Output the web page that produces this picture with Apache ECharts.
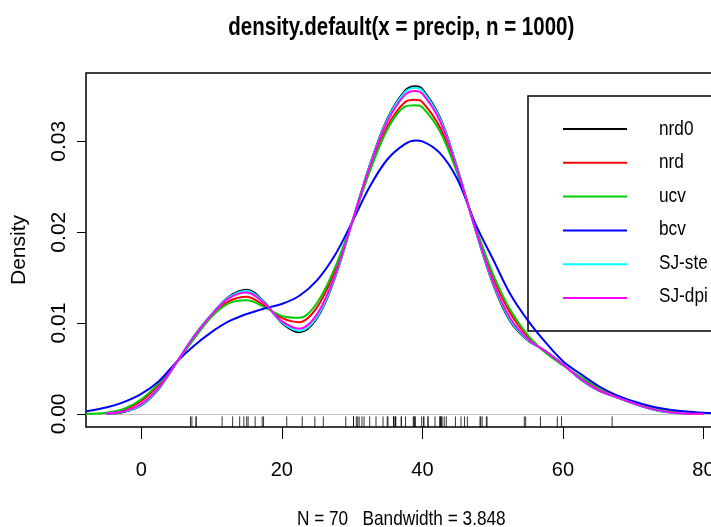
<!DOCTYPE html>
<html>
<head>
<meta charset="utf-8">
<script src="https://cdn.jsdelivr.net/npm/echarts@6/dist/echarts.min.js"></script>
<style>
html,body{margin:0;padding:0;background:#fff;}
#chart{width:711px;height:527px;}
</style>
</head>
<body>
<div id="chart"></div>
<script>
// ---- data ----
const titleText = 'density.default(x = precip, n = 1000)';
const subText = 'N = 70   Bandwidth = 3.848';
const seriesNames = ['nrd0', 'nrd', 'ucv', 'bcv', 'SJ-ste', 'SJ-dpi'];
const seriesColors = ['#000000', '#ff0000', '#00cd00', '#0000ff', '#00ffff', '#ff00ff'];
const xTicks = [0, 20, 40, 60, 80];
const yTicks = [0, 0.01, 0.02, 0.03];

// evaluation grid (x) shared by all curves
const xs = [-7.8, -5, -2.5, 0, 2.5, 5, 7.5, 10, 12.5, 15, 17.5, 20, 22.5, 25, 27.5, 30, 32.5, 35, 37.5, 39, 40,
            42.5, 45, 47.5, 50, 52.5, 55, 57.5, 60, 62.5, 65, 67.5, 70, 72.5, 75, 77.5, 80, 81.8];

const nrd0 = [null, 0.00003, 0.00022, 0.00094, 0.00277, 0.00564, 0.00857, 0.01096, 0.01292, 0.01367, 0.01231, 0.01002,
  0.00900, 0.01053, 0.01486, 0.02108, 0.02737, 0.03246, 0.03556, 0.03607, 0.03575, 0.03262, 0.02696, 0.02039, 0.01440,
  0.01020, 0.00811, 0.00695, 0.00547, 0.00380, 0.00259, 0.00186, 0.00117, 0.00054, 0.00017, 0.00004, null, null];
const nrd = [null, 0.00010, 0.00045, 0.00142, 0.00322, 0.00567, 0.00834, 0.01078, 0.01240, 0.01290, 0.01191, 0.01057,
  0.01010, 0.01173, 0.01567, 0.02111, 0.02685, 0.03160, 0.03431, 0.03457, 0.03432, 0.03153, 0.02657, 0.02064, 0.01517,
  0.01111, 0.00851, 0.00681, 0.00539, 0.00400, 0.00280, 0.00188, 0.00120, 0.00065, 0.00027, 0.00008, 0.00002, null];
const ucv = [0.00002, 0.00013, 0.00054, 0.00161, 0.00339, 0.00568, 0.00825, 0.01070, 0.01219, 0.01250, 0.01175, 0.01078,
  0.01058, 0.01221, 0.01599, 0.02112, 0.02665, 0.03127, 0.03381, 0.03397, 0.03375, 0.03110, 0.02641, 0.02074, 0.01547,
  0.01147, 0.00867, 0.00676, 0.00536, 0.00408, 0.00288, 0.00188, 0.00121, 0.00070, 0.00031, 0.00009, 0.00003, null];
const bcv = [0.0003, 0.0007, 0.0013, 0.0022, 0.0036, 0.0057, 0.0075, 0.0090, 0.0102, 0.0110, 0.0116, 0.0121,
  0.0130, 0.0147, 0.0174, 0.0211, 0.0250, 0.0280, 0.0297, 0.0301, 0.0300, 0.0287, 0.0258, 0.0210, 0.0171,
  0.0132, 0.0103, 0.0079, 0.0058, 0.0044, 0.0031, 0.0021, 0.0014, 0.00085, 0.00048, 0.00026, 0.00013, 0.00008];
const sjSte = [null, 0.00004, 0.00025, 0.00100, 0.00282, 0.00564, 0.00854, 0.01094, 0.01286, 0.01356, 0.01226, 0.01008,
  0.00913, 0.01067, 0.01495, 0.02108, 0.02731, 0.03236, 0.03541, 0.03590, 0.03558, 0.03249, 0.02691, 0.02042, 0.01449,
  0.01031, 0.00816, 0.00693, 0.00546, 0.00382, 0.00261, 0.00186, 0.00117, 0.00055, 0.00018, 0.00004, null, null];
const sjDpi = [null, 0.00005, 0.00030, 0.00111, 0.00293, 0.00565, 0.00849, 0.01090, 0.01274, 0.01335, 0.01217, 0.01021,
  0.00938, 0.01095, 0.01514, 0.02109, 0.02719, 0.03216, 0.03512, 0.03555, 0.03525, 0.03224, 0.02682, 0.02048, 0.01467,
  0.01052, 0.00825, 0.00690, 0.00544, 0.00387, 0.00266, 0.00187, 0.00118, 0.00058, 0.00021, 0.00005, 0.00001, null];

// rug: the observations (precip)
const precip = [67.0, 54.7, 7.0, 48.5, 14.0, 17.2, 20.7, 13.0, 43.4, 40.2, 38.9, 54.5, 59.8, 48.3, 22.9, 11.5,
  34.4, 35.1, 38.7, 30.8, 30.6, 43.1, 56.8, 40.8, 41.8, 42.5, 31.0, 31.7, 30.2, 25.9, 49.2, 37.0, 35.9, 15.0,
  30.2, 7.2, 36.2, 45.5, 7.8, 33.4, 36.1, 40.2, 42.7, 42.5, 16.2, 39.0, 35.0, 37.0, 31.4, 37.6, 39.9, 36.2,
  42.8, 46.4, 24.7, 49.1, 46.0, 35.9, 7.8, 48.2, 15.2, 32.5, 44.7, 42.6, 38.8, 17.4, 40.8, 29.1, 14.6, 59.2];

const curves = [nrd0, nrd, ucv, bcv, sjSte, sjDpi];

// ---- layout / style ----
const xMin = -7.868, xMax = 81.868, yMin = -0.00144, yMax = 0.03752;
const regular = "'Liberation Sans', Arial, sans-serif";
const squeeze = 0.82; // the reference text is horizontally condensed

const chart = echarts.init(document.getElementById('chart'), null, {renderer: 'canvas'});

const lineSeries = curves.map((ys, i) => ({
  name: seriesNames[i],
  type: 'line',
  data: xs.map((x, j) => [x, ys[j]]),
  smooth: 0.35,
  symbol: 'none',
  connectNulls: false,
  clip: true,
  lineStyle: {color: seriesColors[i], width: 2},
  itemStyle: {color: seriesColors[i]},
  z: 3 + i,
  markLine: i === 0 ? {
    silent: true, symbol: 'none', label: {show: false}, animation: false,
    lineStyle: {color: '#bebebe', width: 1, type: 'solid'},
    data: [{yAxis: 0}], z: 1
  } : undefined
}));

const rugSeries = {
  name: 'rug',
  type: 'custom',
  coordinateSystem: 'cartesian2d',
  data: precip.map(v => [v, yMin]),
  encode: {x: 0, y: 1},
  clip: false,
  z: 2,
  renderItem: function (params, api) {
    const p = api.coord([api.value(0), api.value(1)]);
    return {
      type: 'line',
      shape: {x1: p[0], y1: p[1], x2: p[0], y2: p[1] - 10.6},
      style: {stroke: '#000', lineWidth: 0.8}
    };
  }
};

const legendTop = 96, legendRow = 33.5, legendFirst = 129;
const legendTexts = seriesNames.map((n, i) => ({
  type: 'text', x: 659, y: legendFirst + i * legendRow, scaleX: squeeze, silent: true, z: 100,
  style: {text: n, fill: '#000', font: '21px ' + regular, align: 'left', verticalAlign: 'middle'}
}));

chart.setOption({
  animation: false,
  backgroundColor: '#ffffff',
  grid: {left: 86, top: 73, width: 630.6, height: 354, show: true, borderColor: '#000', borderWidth: 1.5,
    outerBoundsMode: 'none', containLabel: false},
  xAxis: {
    type: 'value', min: xMin, max: xMax,
    axisLine: {show: false, onZero: false}, splitLine: {show: false},
    axisTick: {show: true, length: 12, customValues: xTicks, lineStyle: {color: '#000', width: 1}},
    axisLabel: {customValues: xTicks, margin: 33, fontFamily: regular, fontSize: 20, lineHeight: 21, color: '#000',
      formatter: v => String(v)}
  },
  yAxis: {
    type: 'value', min: yMin, max: yMax,
    axisLine: {show: false, onZero: false}, splitLine: {show: false},
    axisTick: {show: true, length: 9, customValues: yTicks, lineStyle: {color: '#000', width: 1}},
    axisLabel: {customValues: yTicks, rotate: 90, margin: 16, fontFamily: regular, fontSize: 21, color: '#000',
      formatter: v => v.toFixed(2)},
    name: 'Density', nameLocation: 'middle', nameRotate: 90, nameGap: 56,
    nameTextStyle: {fontFamily: regular, fontSize: 21, color: '#000'}
  },
  legend: {
    orient: 'vertical', left: 528, top: legendTop,
    padding: [25, 150, 25, 34],
    itemWidth: 64, itemHeight: 20, itemGap: 17.8,
    borderColor: '#000', borderWidth: 1.5,
    selectedMode: false,
    data: seriesNames,
    itemStyle: {opacity: 0},
    formatter: () => '',
    textStyle: {fontSize: 1, lineHeight: 1}
  },
  graphic: [
    {type: 'text', x: 401.3, y: 28, scaleX: squeeze, silent: true,
      style: {text: titleText, fill: '#000', font: "bold 25px " + regular, align: 'center', verticalAlign: 'middle'}},
    {type: 'text', x: 401.3, y: 519, scaleX: squeeze, silent: true,
      style: {text: subText, fill: '#000', font: "21px " + regular, align: 'center', verticalAlign: 'middle'}}
  ].concat(legendTexts),
  series: [rugSeries].concat(lineSeries)
});
</script>
</body>
</html>
